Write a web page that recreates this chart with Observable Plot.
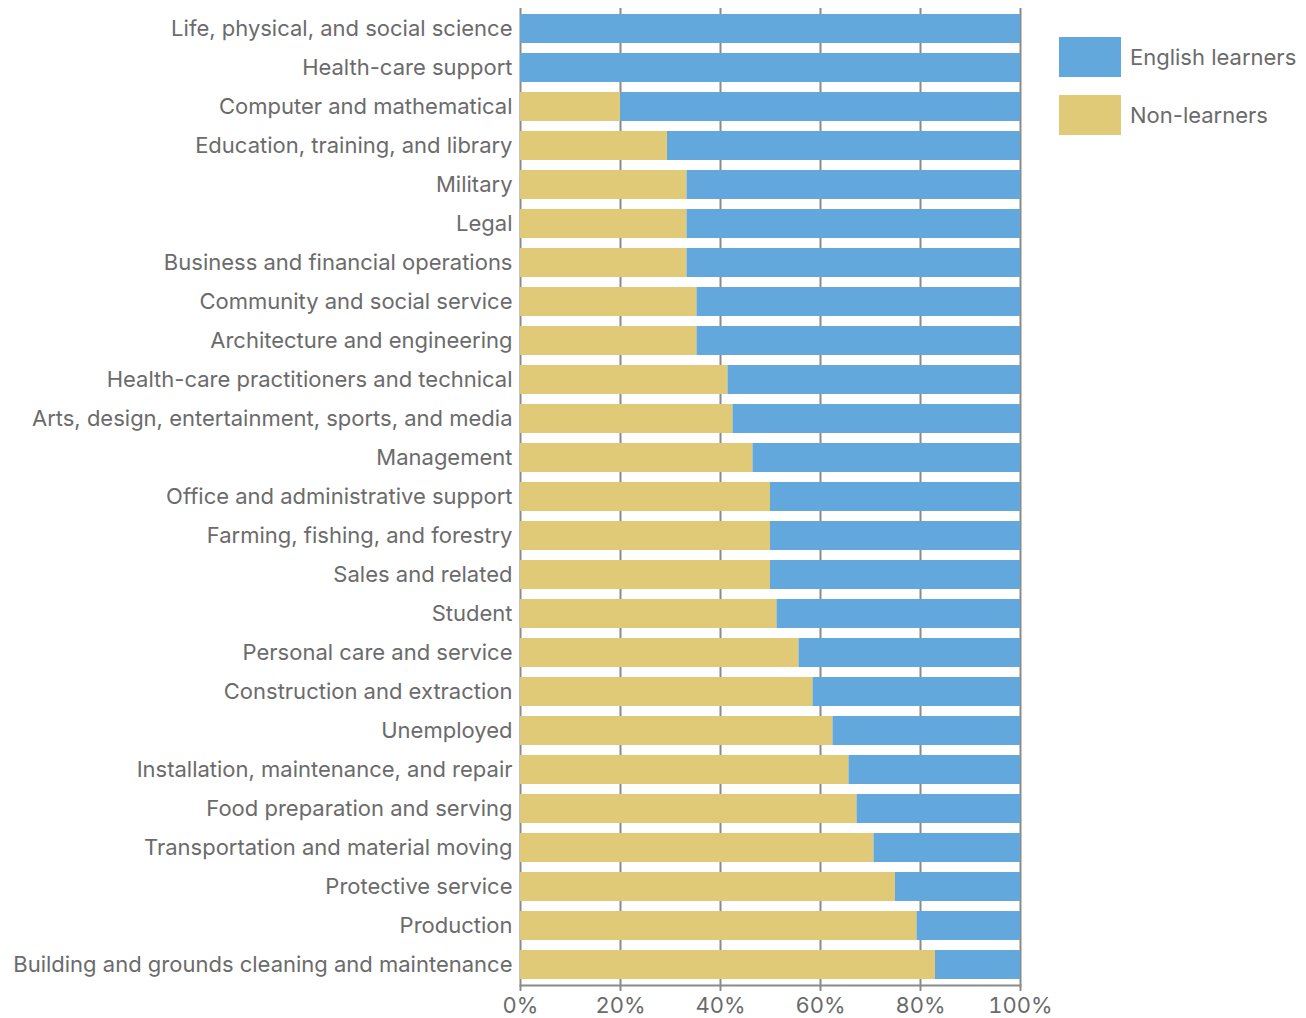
<!DOCTYPE html>
<html><head><meta charset="utf-8">
<script src="https://cdn.jsdelivr.net/npm/d3@7"></script>
<script src="https://cdn.jsdelivr.net/npm/@observablehq/plot@0.6"></script>
<style>
body{margin:0;background:#fff;}
#wrap{position:relative;width:1306px;height:1018px;}
.legend{position:absolute;left:1059px;font-family:Inter,sans-serif;font-size:22px;color:#6b6b6b;display:flex;align-items:center;white-space:nowrap;}
.sw{width:62px;height:40px;margin-right:9px;}
</style></head><body>
<div id="wrap"></div>
<script>
const occupations = [
  "Life, physical, and social science",
  "Health-care support",
  "Computer and mathematical",
  "Education, training, and library",
  "Military",
  "Legal",
  "Business and financial operations",
  "Community and social service",
  "Architecture and engineering",
  "Health-care practitioners and technical",
  "Arts, design, entertainment, sports, and media",
  "Management",
  "Office and administrative support",
  "Farming, fishing, and forestry",
  "Sales and related",
  "Student",
  "Personal care and service",
  "Construction and extraction",
  "Unemployed",
  "Installation, maintenance, and repair",
  "Food preparation and serving",
  "Transportation and material moving",
  "Protective service",
  "Production",
  "Building and grounds cleaning and maintenance"
];
const nonLearners =     [0, 0, 20, 29.4, 33.3, 33.3, 33.3, 35.3, 35.3, 41.5, 42.5, 46.5, 50, 50, 50, 51.3, 55.7, 58.5, 62.5, 65.7, 67.3, 70.7, 75, 79.3, 83];
const englishLearners = [100, 100, 80, 70.6, 66.7, 66.7, 66.7, 64.7, 64.7, 58.5, 57.5, 53.5, 50, 50, 50, 48.7, 44.3, 41.5, 37.5, 34.3, 32.7, 29.3, 25, 20.7, 17];
const seriesNames = ["Non-learners", "English learners"];
const seriesColors = ["#e0ca78", "#63a8dc"];
const legendOrder = ["English learners", "Non-learners"];
const xTicks = [0, 20, 40, 60, 80, 100];

const data = occupations.flatMap((o, i) => [
  {occupation: o, group: seriesNames[0], value: nonLearners[i]},
  {occupation: o, group: seriesNames[1], value: englishLearners[i]}
]);

const chart = Plot.plot({
  width: 1306,
  height: 1018,
  marginLeft: 520,
  marginRight: 286,
  marginTop: 8,
  marginBottom: 33,
  style: {fontFamily: "Inter, sans-serif", fontSize: "22px", color: "#6b6b6b", background: "#fff"},
  x: {domain: [0, 100]},
  y: {domain: occupations, paddingInner: 0.26, paddingOuter: 0.115},
  color: {domain: seriesNames, range: seriesColors},
  marks: [
    Plot.ruleX(xTicks, {stroke: "#8a8a8a", strokeWidth: 2}),
    Plot.barX(data, Plot.stackX({x: "value", y: "occupation", fill: "group"})),
    Plot.frame({anchor: "bottom", stroke: "#8a8a8a", strokeWidth: 2}),
    Plot.axisX(xTicks, {tickSize: 6, tickPadding: 6, stroke: "#8a8a8a", strokeWidth: 2, tickFormat: d => d + "%", fill: "#6b6b6b", fontSize: 22, label: null}),
    Plot.axisY({tickSize: 0, tickPadding: 8, fill: "#6b6b6b", fontSize: 22, label: null})
  ]
});

const wrap = document.getElementById("wrap");
wrap.appendChild(chart);
legendOrder.forEach((name, i) => {
  const d = document.createElement("div");
  d.className = "legend";
  d.style.top = (37 + i * 58) + "px";
  const sw = document.createElement("div");
  sw.className = "sw";
  sw.style.background = seriesColors[seriesNames.indexOf(name)];
  d.appendChild(sw);
  d.appendChild(document.createTextNode(name));
  wrap.appendChild(d);
});
</script>
</body></html>
